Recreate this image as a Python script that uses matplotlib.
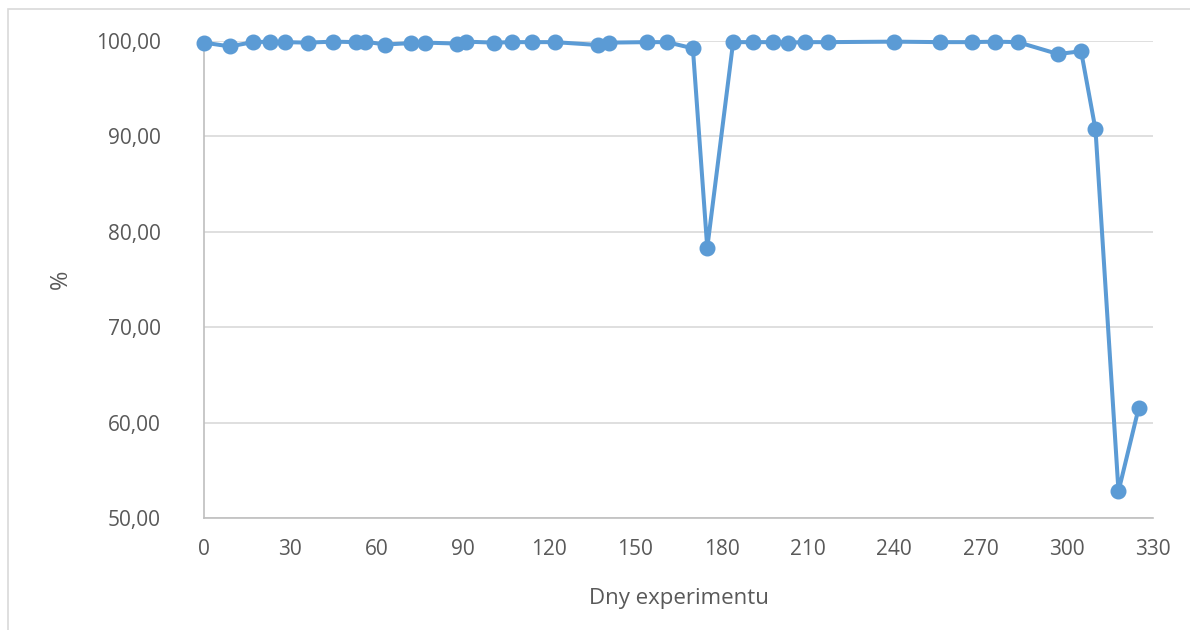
import matplotlib.pyplot as plt
import matplotlib.patches as patches
from matplotlib.ticker import FuncFormatter

# experiment days and measured values (%)
days = [0, 9, 17, 23, 28, 36, 45, 53, 56, 63, 72, 77, 88, 91, 101, 107,
        114, 122, 137, 141, 154, 161, 170, 175, 184, 191, 198, 203, 209, 217,
        240, 256, 267, 275, 283, 297, 305, 310, 318, 325]
values = [99.8, 99.4, 99.85, 99.9, 99.85, 99.8, 99.9, 99.85, 99.9, 99.6,
          99.75, 99.8, 99.7, 99.9, 99.8, 99.85, 99.85, 99.85, 99.55, 99.8,
          99.85, 99.85, 99.2, 78.3, 99.85, 99.85, 99.85, 99.8, 99.85, 99.85,
          99.9, 99.85, 99.85, 99.9, 99.85, 98.6, 98.9, 90.7, 52.8, 61.5]
x_ticks = list(range(0, 331, 30))
y_ticks = [50, 60, 70, 80, 90, 100]

plt.rcParams['font.family'] = ['Open Sans', 'DejaVu Sans']
text_col = '#595959'

fig = plt.figure(figsize=(11.9, 6.3), dpi=100)
ax = fig.add_axes([204 / 1190, 1 - 518 / 630, 949 / 1190, (518 - 40.7) / 630])

# chart area border (only top/left visible in the screenshot)
fig.patches.append(patches.Rectangle((8 / 1190, -0.1), 1.2, 1 - 9 / 630 + 0.1,
                                     transform=fig.transFigure, fill=False,
                                     edgecolor='#d9d9d9', linewidth=1.2))

ax.plot(days, values, color='#5b9bd5', linewidth=2.9, marker='o',
        markersize=10.5, clip_on=False, zorder=3)

ax.set_xlim(0, 330)
ax.set_ylim(50, 100)
ax.set_xticks(x_ticks)
ax.set_yticks(y_ticks)
ax.yaxis.set_major_formatter(FuncFormatter(lambda v, p: f'{v:.2f}'.replace('.', ',')))
ax.grid(axis='y', color='#d9d9d9', linewidth=1.2)
ax.set_axisbelow(True)
ax.tick_params(length=0, labelsize=15, colors=text_col)
ax.tick_params(axis='y', pad=31)
ax.tick_params(axis='x', pad=15)
for side in ['top', 'right']:
    ax.spines[side].set_visible(False)
for side in ['left', 'bottom']:
    ax.spines[side].set_color('#bfbfbf')
    ax.spines[side].set_linewidth(1.2)

ax.set_xlabel('Dny experimentu', fontsize=16, color=text_col)
ax.set_ylabel('%', fontsize=17, color=text_col)
ax.xaxis.set_label_coords(0.5, -0.147)
ax.yaxis.set_label_coords(-0.138, 0.5)

fig.savefig('out.png', dpi=100)
